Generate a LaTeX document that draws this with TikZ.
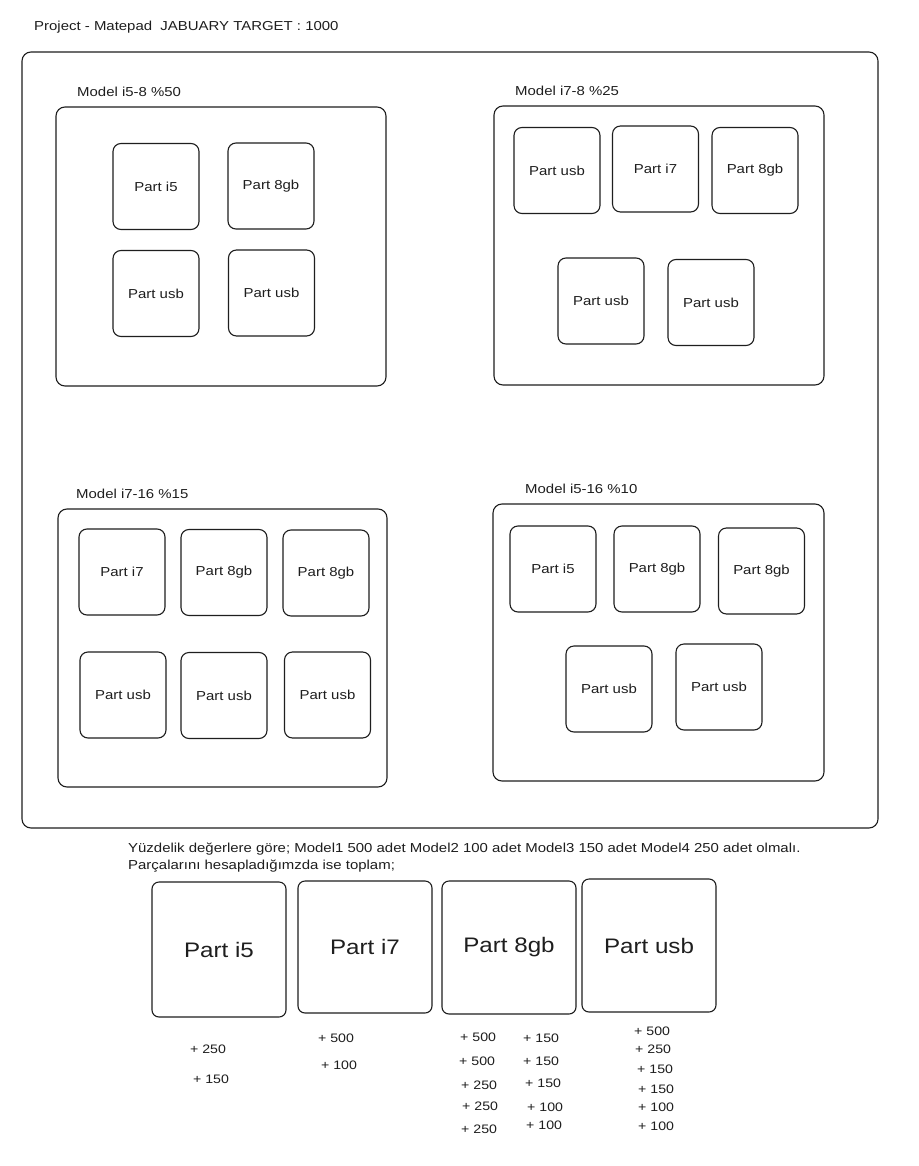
\documentclass[tikz,border=0pt]{standalone}
\usepackage{fontspec}
\setmainfont[FakeStretch=1.15]{Liberation Sans}
\definecolor{ink}{HTML}{1E1E1E}
\begin{document}
\begin{tikzpicture}[x=1pt,y=-1pt,
  every node/.style={text=ink},
  frame/.style={draw=ink, line width=1.1pt, rounded corners=9pt, inner sep=0pt},
  part/.style={draw=ink, line width=1.1pt, rounded corners=8pt, minimum width=86pt, minimum height=86pt, inner sep=0pt, font=\fontsize{13}{15}\selectfont},
  bigpart/.style={draw=ink, line width=1.1pt, rounded corners=7pt, minimum width=134pt, minimum height=133pt, inner sep=0pt, font=\fontsize{21}{24}\selectfont},
  lbl/.style={anchor=west, inner sep=0pt, font=\fontsize{13}{15}\selectfont},
  num/.style={anchor=west, inner sep=0pt, font=\fontsize{12.3}{14}\selectfont}]
\useasboundingbox (0,0) rectangle (918,1166);
\fill[white] (0,0) rectangle (918,1166);

\node[lbl] (title) at (34,27) {Project - Matepad\ \ JABUARY TARGET : 1000};

\node[frame, minimum width=856pt, minimum height=776pt] (outer) at (450,440) {};

% Model 1
\node[lbl] (m1l) at (77,92) {Model i5-8 \%50};
\node[frame, minimum width=330pt, minimum height=279pt] (m1) at (221,246.5) {};
\node[part] (m1a) at (156,186.5) {Part i5};
\node[part] (m1b) at (271,186) {Part 8gb};
\node[part] (m1c) at (156,293.5) {Part usb};
\node[part] (m1d) at (271.5,293) {Part usb};

% Model 2
\node[lbl] (m2l) at (515,91) {Model i7-8 \%25};
\node[frame, minimum width=330pt, minimum height=279pt] (m2) at (659,245.5) {};
\node[part] (m2a) at (557,170.5) {Part usb};
\node[part] (m2b) at (655.5,169) {Part i7};
\node[part] (m2c) at (755,170.5) {Part 8gb};
\node[part] (m2d) at (601,301) {Part usb};
\node[part] (m2e) at (711,302.5) {Part usb};

% Model 3
\node[lbl] (m3l) at (76,494) {Model i7-16 \%15};
\node[frame, minimum width=329pt, minimum height=278pt] (m3) at (222.5,648) {};
\node[part] (m3a) at (122,572) {Part i7};
\node[part] (m3b) at (224,572.5) {Part 8gb};
\node[part] (m3c) at (326,573) {Part 8gb};
\node[part] (m3d) at (123,695) {Part usb};
\node[part] (m3e) at (224,695.5) {Part usb};
\node[part] (m3f) at (327.5,695) {Part usb};

% Model 4
\node[lbl] (m4l) at (525,489) {Model i5-16 \%10};
\node[frame, minimum width=331pt, minimum height=277pt] (m4) at (658.5,642.5) {};
\node[part] (m4a) at (553,569) {Part i5};
\node[part] (m4b) at (657,569) {Part 8gb};
\node[part] (m4c) at (761.5,571) {Part 8gb};
\node[part] (m4d) at (609,689) {Part usb};
\node[part] (m4e) at (719,687) {Part usb};

% Summary text
\node[lbl] (s1) at (128,849) {Yüzdelik değerlere göre; Model1 500 adet Model2 100 adet Model3 150 adet Model4 250 adet olmalı.};
\node[lbl] (s2) at (128,866) {Parçalarını hesapladığımzda ise toplam;};

% Big parts
\node[bigpart, minimum height=135pt] (bi5) at (219,949.5) {Part i5};
\node[bigpart, minimum height=132pt] (bi7) at (365,947) {Part i7};
\node[bigpart] (b8) at (509,947.5) {Part 8gb};
\node[bigpart] (busb) at (649,945.5) {Part usb};

% Numbers
\node[num] (n1) at (190,1049) {+ 250};
\node[num] (n2) at (193,1079) {+ 150};
\node[num] (n3) at (318,1038) {+ 500};
\node[num] (n4) at (321,1065) {+ 100};

\node[num] (n5) at (460,1037) {+ 500};
\node[num] (n6) at (459,1061) {+ 500};
\node[num] (n7) at (461,1085) {+ 250};
\node[num] (n8) at (462,1106) {+ 250};
\node[num] (n9) at (461,1129) {+ 250};

\node[num] (n10) at (523,1038) {+ 150};
\node[num] (n11) at (523,1061) {+ 150};
\node[num] (n12) at (525,1083) {+ 150};
\node[num] (n13) at (527,1107) {+ 100};
\node[num] (n14) at (526,1125) {+ 100};

\node[num] (n15) at (634,1031) {+ 500};
\node[num] (n16) at (635,1049) {+ 250};
\node[num] (n17) at (637,1069) {+ 150};
\node[num] (n18) at (638,1089) {+ 150};
\node[num] (n19) at (638,1107) {+ 100};
\node[num] (n20) at (638,1126) {+ 100};
\end{tikzpicture}
\end{document}
